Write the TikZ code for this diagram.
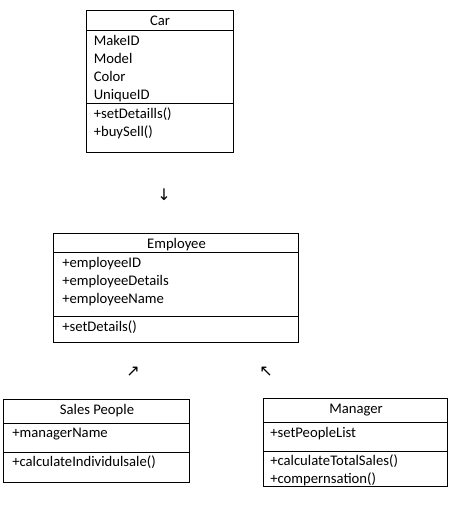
\documentclass[tikz,border=0pt]{standalone}
\usepackage{fontspec}
\setmainfont{Carlito}
\newfontfamily\arrowfont{DejaVu Sans}
\usetikzlibrary{positioning}

\begin{document}
\begin{tikzpicture}[
		x=0.75pt, y=-0.75pt,
		frame/.style={
			draw=black,
			line width=0.75pt
		},
		heading/.style={
			anchor=base,
			inner sep=0pt,
			font=\fontsize{11pt}{13.5pt}\selectfont
		},
		member/.style={
			anchor=base west,
			inner sep=0pt,
			font=\fontsize{11pt}{13.5pt}\selectfont
		},
		glyph/.style={
			inner sep=0pt,
			font=\arrowfont\fontsize{12pt}{12pt}\selectfont
		}
	]
	\useasboundingbox (0,0) rectangle (475,532);
	
	% Car
	\draw[frame] (86,10) rectangle (233,152);
	\draw[frame] (86,30) -- (233,30);
	\draw[frame] (86,103) -- (233,103);
	\node[heading] (car) at (160,25.5) {Car};
	\node[member] (makeid) at (93.5,45.5) {MakeID};
	\node[member] (model) at (93.5,63.5) {Model};
	\node[member] (color) at (93.5,81.5) {Color};
	\node[member] (uniqueid) at (93.5,99.5) {UniqueID};
	\node[member] (setdetaills) at (93.5,118.5) {+setDetaills()};
	\node[member] (buysell) at (93.5,136.5) {+buySell()};
	
	\node[glyph] (down) at (164,195) {↓};
	
	% Employee
	\draw[frame] (53,233) rectangle (298,342);
	\draw[frame] (53,252) -- (298,252);
	\draw[frame] (53,316) -- (298,316);
	\node[heading] (employee) at (176.5,248) {Employee};
	\node[member] (empid) at (62,267.3) {+employeeID};
	\node[member] (empdetails) at (62,285.3) {+employeeDetails};
	\node[member] (empname) at (62,303.3) {+employeeName};
	\node[member] (setdetails) at (62,331.7) {+setDetails()};
	
	\node[glyph] (upright) at (133,372) {↗};
	\node[glyph] (upleft) at (266,372) {↖};
	
	% Sales People
	\draw[frame] (3,399) rectangle (189,482);
	\draw[frame] (3,423) -- (189,423);
	\draw[frame] (3,452) -- (189,452);
	\node[heading] (sales) at (97,414) {Sales People};
	\node[member] (managername) at (12,437.3) {+managerName};
	\node[member] (individual) at (12,466) {+calculateIndividulsale()};
	
	% Manager
	\draw[frame] (263,398) rectangle (447,486);
	\draw[frame] (263,422) -- (447,422);
	\draw[frame] (263,451) -- (447,451);
	\node[heading] (manager) at (356,413.3) {Manager};
	\node[member] (peoplelist) at (270,437) {+setPeopleList};
	\node[member] (totalsales) at (270,465.3) {+calculateTotalSales()};
	\node[member] (compensation) at (270,483) {+compernsation()};
	
\end{tikzpicture}
\end{document}
